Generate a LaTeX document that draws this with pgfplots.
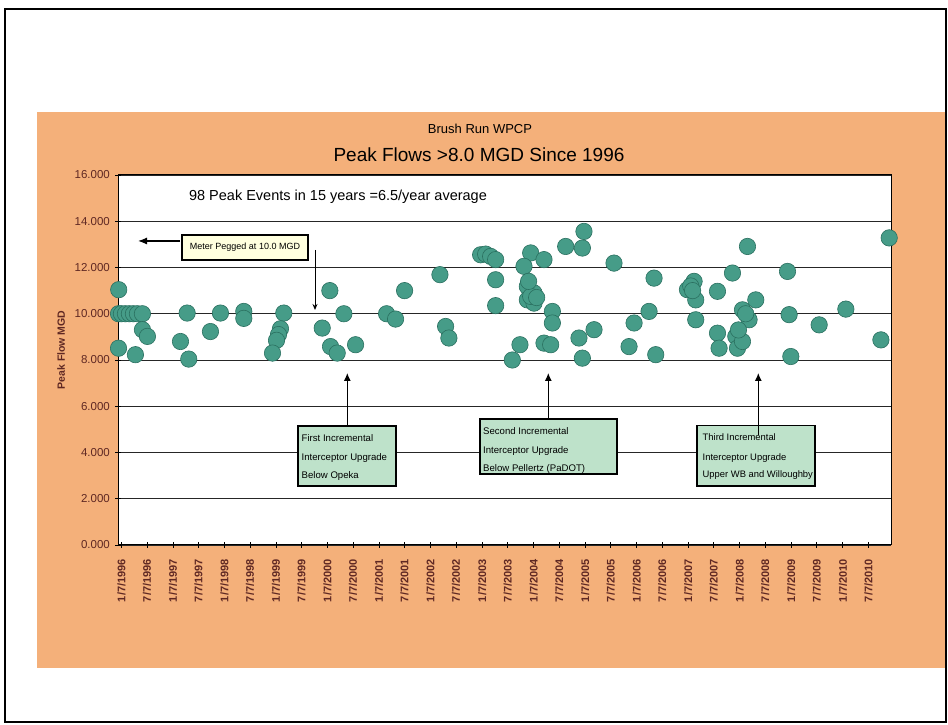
\documentclass[border=0pt]{standalone}
\usepackage{pgfplots}
\pgfplotsset{compat=1.18}
\usepackage{fontspec}
\setmainfont{Liberation Sans}
\usetikzlibrary{arrows.meta}
\definecolor{bgorange}{RGB}{244,176,122}
\definecolor{ptfill}{RGB}{70,156,136}
\definecolor{ptdraw}{RGB}{42,112,96}
\definecolor{tickcol}{RGB}{95,40,35}
\definecolor{boxgreen}{RGB}{190,226,202}
\definecolor{boxyellow}{RGB}{255,255,222}
\pgfplotstableread{
x y
1995.964 11.04
1995.960 10.00
1996.016 10.00
1996.094 10.00
1996.171 10.00
1996.249 10.00
1996.327 10.00
1996.424 10.00
1995.960 8.51
1996.424 9.31
1996.521 9.02
1996.288 8.23
1997.292 10.03
1997.162 8.80
1997.323 8.04
1997.744 9.23
1997.938 10.03
1998.391 10.10
1998.391 9.80
1999.167 10.03
1999.103 9.35
1999.065 9.10
1999.026 8.85
1998.948 8.30
2000.061 11.00
2000.333 10.00
1999.913 9.38
2000.074 8.58
2000.204 8.30
2000.560 8.66
2001.162 10.00
2001.336 9.77
2001.511 11.00
2002.197 11.69
2002.307 9.45
2002.371 8.95
2002.987 12.55
2003.084 12.58
2003.181 12.48
2003.278 12.34
2003.278 11.47
2003.278 10.35
2003.602 8.00
2003.750 8.66
2003.958 12.63
2003.828 12.05
2004.216 12.34
2003.893 11.18
2004.022 10.90
2003.893 10.60
2004.022 10.46
2003.958 10.75
2003.918 11.40
2004.074 10.70
2004.379 10.10
2004.379 9.60
2004.216 8.73
2004.346 8.66
2004.637 12.91
2004.992 13.56
2004.961 12.84
2004.895 8.95
2005.187 9.31
2004.961 8.08
2005.575 12.19
2005.964 9.60
2005.867 8.58
2006.255 10.10
2006.352 11.54
2006.385 8.23
2007.129 11.40
2007.000 11.04
2007.161 10.60
2007.161 9.74
2007.064 11.20
2007.100 11.00
2007.583 10.97
2007.874 11.76
2008.165 12.91
2007.583 9.16
2007.614 8.51
2007.938 9.02
2007.971 8.51
2008.068 8.80
2008.068 10.17
2008.326 10.60
2008.196 9.74
2007.990 9.30
2008.130 10.00
2008.942 11.83
2008.973 9.96
2009.006 8.15
2009.556 9.52
2010.074 10.20
2010.915 13.28
2010.754 8.87
}\peakdata
\begin{document}
\begin{tikzpicture}
\begin{scope}[x=1pt,y=1pt]
\path[use as bounding box] (0,0) rectangle (948,725);
\fill[white] (0,0) rectangle (948,725);
\draw[line width=1.5pt] (5,3) rectangle (946,716);
\fill[bgorange] (37,57) rectangle (945,613);
\node[font=\fontsize{13}{15}\selectfont] at (480,596) {Brush Run WPCP};
\node[font=\fontsize{19}{22}\selectfont] at (479,570) {Peak Flows >8.0 MGD Since 1996};
\node[rotate=90,font=\bfseries\fontsize{10.5}{12}\selectfont,text=tickcol] at (61,375) {Peak Flow MGD};
\end{scope}
\begin{axis}[at={(118pt,180pt)}, anchor=south west,
  width=773pt, height=370pt, scale only axis,
  xmin=1995.95, xmax=2010.95, ymin=0, ymax=16,
  ytick={0,2,4,6,8,10,12,14,16},
  yticklabels={0.000,2.000,4.000,6.000,8.000,10.000,12.000,14.000,16.000},
  xtick={1996.016,1996.511,1997.016,1997.511,1998.016,1998.511,1999.016,1999.511,2000.016,2000.511,2001.016,2001.511,2002.016,2002.511,2003.016,2003.511,2004.016,2004.511,2005.016,2005.511,2006.016,2006.511,2007.016,2007.511,2008.016,2008.511,2009.016,2009.511,2010.016,2010.511},
  xticklabels={1/7/1996,7/7/1996,1/7/1997,7/7/1997,1/7/1998,7/7/1998,1/7/1999,7/7/1999,1/7/2000,7/7/2000,1/7/2001,7/7/2001,1/7/2002,7/7/2002,1/7/2003,7/7/2003,1/7/2004,7/7/2004,1/7/2005,7/7/2005,1/7/2006,7/7/2006,1/7/2007,7/7/2007,1/7/2008,7/7/2008,1/7/2009,7/7/2009,1/7/2010,7/7/2010},
  axis background/.style={fill=white},
  ymajorgrids, grid style={black!85, line width=0.8pt},
  axis line style={black, line width=1pt},
  tick style={black, line width=0.8pt},
  major tick length=6pt, tick align=center,
  xtick pos=lower, ytick pos=left,
  yticklabel style={font=\fontsize{11.5}{13}\selectfont, text=tickcol, inner sep=0pt, anchor=east, xshift=-5pt},
  xticklabel style={rotate=90, anchor=east, font=\bfseries\fontsize{11}{13}\selectfont, text=tickcol, inner sep=0pt, xshift=-11pt},
  clip=false]
\addplot[only marks, mark=*, mark size=8.2pt, mark options={fill=ptfill, draw=ptdraw, line width=0.6pt}] table {\peakdata};
\end{axis}
\begin{scope}[x=1pt,y=1pt]
\node[font=\fontsize{14.5}{16}\selectfont] at (338,528) {98 Peak Events in 15 years =6.5/year average};
\node[draw, line width=1.2pt, fill=boxyellow, minimum width=126pt, minimum height=25pt, inner sep=0pt, font=\fontsize{9}{10}\selectfont] at (245,477.5) {Meter Pegged at 10.0 MGD};
\draw[-{Latex[length=9pt,width=7pt]}, line width=1.2pt] (180,484) -- (138,484);
\draw[-{Stealth[length=6pt,width=5pt]}, line width=1pt] (315,475) -- (315,415);
% box 1
\draw[line width=1.2pt, fill=boxgreen] (298,299) rectangle (396,239);
\begin{scope}[every node/.style={anchor=base west, inner sep=0pt, font=\fontsize{9.6}{11}\selectfont}]
\node at (301.5,283.6) {First Incremental};
\node at (301.5,264.6) {Interceptor Upgrade};
\node at (301.5,246.6) {Below Opeka};
\end{scope}
\draw[-{Latex[length=8pt,width=7pt]}, line width=1.2pt] (347.3,299) -- (347.3,352);
% box 2
\draw[line width=1.2pt, fill=boxgreen] (480,306) rectangle (617,251);
\begin{scope}[every node/.style={anchor=base west, inner sep=0pt, font=\fontsize{9.6}{11}\selectfont}]
\node at (483,290.6) {Second Incremental};
\node at (483,271.6) {Interceptor Upgrade};
\node at (483,253.6) {Below Pellertz (PaDOT)};
\end{scope}
\draw[-{Latex[length=8pt,width=7pt]}, line width=1.2pt] (548.3,306) -- (548.3,352);
% box 3
\draw[line width=1.2pt, fill=boxgreen] (697,299.3) rectangle (815,239);
\begin{scope}[every node/.style={anchor=base west, inner sep=0pt, font=\fontsize{9.4}{11}\selectfont}]
\node at (702.5,284.6) {Third Incremental};
\node at (702.5,264.6) {Interceptor Upgrade};
\node at (702.5,247.6) {Upper WB and Willoughby};
\end{scope}
\draw[-{Latex[length=8pt,width=7pt]}, line width=1.2pt] (758.3,290) -- (758.3,352);
\end{scope}
\end{tikzpicture}
\end{document}
